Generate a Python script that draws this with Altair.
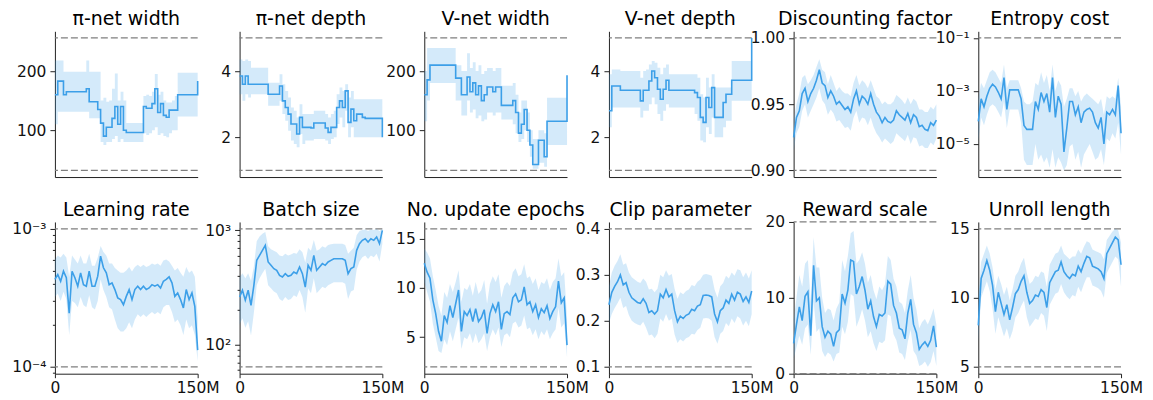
import altair as alt
import pandas as pd

BLUE = "#3c9fe8"
GREY = "#7f7f7f"
FONT = "DejaVu Sans"

# training progress in millions of steps (sampling grid of the read-off values)
steps = list(range(0, 151, 3))

titles = ["π-net width", "π-net depth", "V-net width", "V-net depth",
          "Discounting factor", "Entropy cost",
          "Learning rate", "Batch size", "No. update epochs", "Clip parameter",
          "Reward scale", "Unroll length"]

# ---- pi-net width
piw_mean = [160,183,183,160,165,165,165,165,165,165,165,170,148,148,148,135,112,90,105,105,120,140,110,140,100,96,96,96,96,96,96,140,137,137,145,170,130,145,125,122,134,134,134,160,160,160,160,160,160,160,183]
piw_hi = [218,218,218,199,199,199,199,199,199,199,199,218,199,199,199,199,150,155,148,150,170,196,150,165,150,112,112,112,112,112,112,158,160,158,165,195,160,165,150,147,147,150,158,197,197,197,197,197,197,197,210]
piw_lo = [110,131,131,131,131,131,131,131,131,131,131,131,120,120,120,120,80,75,80,80,85,90,80,85,80,80,80,80,80,80,80,95,92,95,100,105,92,95,90,88,95,100,100,123,123,123,123,123,123,123,100]

# ---- pi-net depth
pid_mean = [3.85,3.6,3.85,3.6,3.6,3.6,3.6,3.6,3.6,3.6,3.3,3.3,3.3,3.3,3.55,3.1,2.9,2.7,2.4,2.4,2.1,2.6,2.3,2.3,2.3,2.28,2.43,2.43,2.43,2.43,2.28,2.15,2.3,2.3,2.9,3.1,2.9,3.4,2.45,2.85,2.5,2.7,2.7,2.6,2.57,2.57,2.57,2.57,2.57,2.57,2.0]
pid_hi = [4.35,4.3,4.35,4.3,4.1,4.1,4.1,4.1,4.1,4.1,3.65,3.65,3.65,3.65,3.9,3.6,3.4,3.2,2.9,2.8,2.6,3.0,2.7,2.7,2.7,2.7,2.8,2.8,2.8,2.8,2.7,2.6,2.7,2.8,3.3,3.5,3.4,3.6,3.2,3.4,3.15,3.15,3.15,3.15,3.15,3.15,3.15,3.15,3.15,3.15,2.6]
pid_lo = [3.3,3.1,3.3,3.2,3.3,3.3,3.3,3.3,3.3,3.3,2.95,2.95,2.95,2.95,3.1,2.7,2.5,2.2,1.9,1.8,1.7,2.1,1.8,1.9,1.9,1.9,1.95,1.95,1.95,1.95,1.9,1.8,1.95,2.0,2.4,2.6,2.3,2.8,2.0,2.3,2.0,2.0,2.0,2.0,2.0,2.0,2.0,2.0,2.0,2.0,1.6]

# ---- V-net width
vw_mean = [160,185,210,210,210,210,210,210,210,210,210,188,188,160,160,190,165,180,160,175,150,160,173,173,165,173,173,142,142,142,142,150,130,95,110,135,100,75,42,42,83,83,55,115,115,115,115,115,115,115,193]
vw_hi = [200,239,239,239,239,239,239,239,239,239,239,210,210,200,200,230,205,215,200,210,195,200,205,205,200,205,205,175,175,175,175,180,160,130,150,150,130,100,85,85,100,100,95,155,155,155,155,155,155,155,235]
vw_lo = [115,150,180,180,180,180,180,180,180,180,180,150,150,125,125,150,130,135,120,125,115,118,130,130,125,130,130,118,118,118,118,110,95,80,85,100,80,55,35,35,45,45,38,75,75,75,75,75,75,75,120]

# ---- V-net depth
vd_mean = [2.8,3.55,3.55,3.55,3.42,3.42,3.42,3.42,3.42,3.42,3.42,3.1,3.42,3.42,3.7,4.0,3.8,3.45,3.15,3.45,3.72,3.42,3.42,3.42,3.42,3.42,3.42,3.42,3.42,3.42,3.35,3.2,2.6,2.45,3.2,2.9,3.5,2.6,2.6,2.6,3.05,3.3,3.3,3.72,3.72,3.72,3.72,3.72,3.72,3.72,5.0]
vd_hi = [3.9,4.05,4.05,4.05,4.0,4.0,4.0,4.0,4.0,4.0,4.0,3.8,4.0,4.05,4.2,4.3,4.25,4.1,3.9,4.1,4.2,3.9,3.9,3.9,3.9,3.9,3.9,3.9,3.9,3.9,3.9,3.8,3.3,3.2,3.8,3.5,3.9,3.5,3.5,3.5,3.5,3.5,3.5,4.3,4.3,4.3,4.3,4.3,4.3,4.3,5.0]
vd_lo = [2.3,2.9,2.9,2.9,2.9,2.9,2.9,2.9,2.9,2.9,2.9,2.6,2.8,2.8,3.0,3.2,3.0,2.7,2.5,2.8,3.0,2.9,2.9,2.9,2.9,2.9,2.9,2.9,2.9,2.9,2.7,2.5,1.9,1.85,2.3,2.1,2.6,2.0,2.0,2.0,2.3,2.5,2.5,3.1,3.1,3.1,3.1,3.1,3.1,3.1,3.1]

# ---- discounting factor
df_mean = [0.925,0.940,0.945,0.958,0.962,0.952,0.958,0.962,0.968,0.976,0.966,0.964,0.955,0.960,0.956,0.950,0.952,0.949,0.946,0.948,0.944,0.954,0.960,0.950,0.956,0.954,0.950,0.958,0.950,0.944,0.941,0.936,0.940,0.937,0.936,0.938,0.945,0.942,0.940,0.938,0.943,0.936,0.942,0.940,0.933,0.934,0.931,0.930,0.936,0.934,0.938]
df_hi = [0.938,0.950,0.958,0.970,0.972,0.965,0.968,0.972,0.978,0.984,0.976,0.974,0.965,0.972,0.966,0.960,0.963,0.960,0.958,0.958,0.956,0.966,0.972,0.964,0.968,0.966,0.962,0.968,0.962,0.956,0.954,0.950,0.952,0.950,0.950,0.952,0.957,0.955,0.953,0.950,0.955,0.950,0.954,0.952,0.946,0.946,0.944,0.944,0.948,0.946,0.950]
df_lo = [0.915,0.928,0.933,0.945,0.950,0.940,0.945,0.950,0.955,0.962,0.953,0.950,0.942,0.946,0.943,0.937,0.938,0.935,0.932,0.933,0.930,0.940,0.945,0.936,0.940,0.939,0.934,0.940,0.933,0.928,0.925,0.921,0.924,0.922,0.920,0.922,0.928,0.926,0.924,0.922,0.927,0.920,0.925,0.924,0.918,0.919,0.917,0.917,0.921,0.919,0.924]

# ---- entropy cost (read as powers of ten)
ent_mean_exp = [-4.15,-3.3,-3.6,-3.2,-2.9,-2.75,-2.85,-3.05,-3.3,-2.5,-3.7,-2.96,-2.96,-2.96,-2.96,-3.3,-4.3,-4.45,-4.45,-4.45,-3.4,-3.7,-3.06,-3.4,-3.1,-3.8,-2.5,-4.0,-3.2,-3.5,-5.3,-4.4,-3.4,-3.4,-3.9,-3.6,-4.2,-3.8,-3.7,-3.65,-3.8,-4.2,-4.4,-4.0,-5.0,-3.8,-3.9,-3.7,-3.9,-2.8,-4.6]
ent_hi_exp = [-3.3,-2.7,-2.9,-2.6,-2.3,-2.2,-2.3,-2.5,-2.7,-2.0,-2.9,-2.6,-2.6,-2.6,-2.6,-2.9,-3.4,-3.5,-3.5,-3.4,-2.7,-2.8,-2.3,-2.7,-2.4,-3.0,-2.0,-3.0,-2.6,-2.8,-3.6,-3.3,-2.9,-2.9,-3.2,-3.0,-3.4,-3.2,-3.1,-3.2,-3.3,-3.4,-3.5,-3.3,-3.9,-3.2,-3.3,-3.2,-3.3,-2.5,-3.6]
ent_lo_exp = [-4.9,-4.0,-4.3,-3.9,-3.6,-3.5,-3.6,-3.8,-4.0,-3.4,-4.4,-3.7,-3.7,-3.7,-3.7,-4.2,-5.6,-5.8,-5.8,-5.8,-5.0,-5.6,-5.4,-5.7,-5.5,-5.9,-5.2,-5.9,-5.5,-5.7,-6.0,-5.8,-5.1,-5.0,-5.6,-5.3,-5.9,-5.4,-5.2,-5.0,-5.3,-5.6,-5.5,-5.2,-5.8,-4.8,-4.9,-4.6,-4.8,-4.2,-5.4]

# ---- learning rate (units of 1e-4)
lr_mean = [4.30,4.67,4.17,4.93,4.42,2.45,4.93,4.42,3.84,4.80,3.94,3.84,4.93,3.84,3.84,4.54,6.35,5.22,4.80,3.94,4.06,3.63,3.16,3.07,2.82,3.24,3.63,3.07,3.63,3.84,3.63,3.84,3.63,3.73,3.94,3.84,3.94,3.73,4.17,4.30,4.49,4.06,3.24,3.43,3.07,2.67,3.63,3.07,3.43,2.74,1.32]
lr_hi = [6.0,6.4,6.2,6.6,6.2,4.5,6.4,6.0,5.6,6.4,5.6,5.6,6.6,5.4,5.4,6.2,7.5,6.8,6.4,5.6,5.6,5.2,5.0,4.8,4.8,5.0,5.3,4.9,5.3,5.5,5.3,5.5,5.3,5.4,5.6,5.5,5.6,5.4,5.9,6.0,5.8,5.4,5.0,5.2,4.8,4.5,5.3,4.8,5.0,4.5,2.3]
lr_lo = [3.2,3.4,3.0,3.5,3.1,1.7,3.0,2.9,2.7,3.2,2.8,2.7,3.3,2.7,2.6,3.0,4.3,3.6,3.2,2.7,2.6,2.2,1.9,1.8,1.8,1.9,2.1,1.9,2.2,2.4,2.3,2.4,2.3,2.4,2.5,2.4,2.5,2.4,2.7,2.8,2.8,2.5,2.1,2.2,2.0,1.7,2.2,1.9,2.0,1.7,1.1]

# ---- batch size
bs_mean = [260,298,244,298,220,329,544,601,665,735,526,492,460,445,402,389,416,394,402,430,416,476,416,318,492,445,601,445,476,509,492,526,544,562,562,562,562,544,416,460,476,665,760,813,840,786,840,813,869,760,993]
bs_hi = [390,420,380,420,360,480,800,880,930,960,720,680,660,640,600,590,620,600,610,630,620,680,640,520,700,660,820,660,680,720,700,740,750,760,760,760,760,740,620,660,700,900,980,1000,1010,980,1010,1000,1020,980,1024]
bs_lo = [150,170,140,160,120,190,330,380,420,460,330,310,290,280,250,240,260,245,250,270,260,300,260,190,310,280,380,280,300,320,310,330,340,350,350,350,350,340,250,290,300,450,530,580,600,560,600,580,620,530,760]

# ---- number of update epochs
ep_mean = [12.5,11.6,11.0,8.8,7.4,5.6,4.6,7.2,6.5,8.2,7.0,8.4,9.8,5.6,7.6,7.2,7.8,6.6,7.9,6.6,7.0,7.8,5.4,7.4,8.3,7.6,8.6,5.8,7.4,7.6,7.3,9.0,9.4,8.6,8.8,10.1,8.3,8.6,7.6,8.3,7.0,7.9,7.5,8.2,6.9,7.6,8.1,10.7,8.5,9.0,4.2]
ep_hi = [14.0,13.6,13.0,11.2,9.8,8.2,7.2,9.6,9.0,10.4,9.6,10.6,11.8,8.6,10.0,9.8,10.4,9.2,10.6,9.4,9.8,10.8,8.4,10.4,11.2,10.6,11.4,9.0,10.2,10.6,10.2,11.6,12.0,11.2,11.4,12.4,11.0,11.2,10.4,11.0,9.8,10.6,10.4,11.0,9.8,10.6,11.0,13.0,11.2,11.6,7.0]
ep_lo = [10.6,9.6,8.6,6.4,5.0,3.6,3.4,4.8,4.2,5.6,4.6,5.8,7.0,3.8,5.0,4.8,5.4,4.4,5.4,4.4,4.8,5.4,3.6,5.0,5.8,5.2,6.0,4.0,5.2,5.4,5.0,6.4,6.6,6.0,6.2,7.2,5.8,6.0,5.2,5.8,4.8,5.6,5.2,5.8,4.8,5.4,5.8,8.0,6.0,6.4,3.0]

# ---- clip parameter
cp_mean = [0.235,0.262,0.275,0.285,0.300,0.278,0.283,0.262,0.250,0.245,0.240,0.238,0.248,0.238,0.218,0.222,0.215,0.222,0.258,0.250,0.268,0.252,0.258,0.222,0.198,0.210,0.205,0.212,0.215,0.225,0.222,0.232,0.235,0.255,0.256,0.255,0.252,0.215,0.198,0.222,0.228,0.245,0.238,0.258,0.245,0.262,0.258,0.242,0.252,0.240,0.265]
cp_hi = [0.275,0.305,0.320,0.330,0.345,0.322,0.325,0.305,0.295,0.290,0.285,0.282,0.292,0.285,0.268,0.270,0.262,0.270,0.300,0.295,0.310,0.298,0.302,0.270,0.248,0.262,0.258,0.265,0.268,0.278,0.275,0.285,0.290,0.300,0.302,0.300,0.298,0.268,0.250,0.275,0.282,0.298,0.292,0.305,0.298,0.312,0.310,0.295,0.305,0.292,0.310]
cp_lo = [0.195,0.215,0.228,0.238,0.250,0.228,0.232,0.212,0.200,0.195,0.192,0.190,0.198,0.185,0.168,0.170,0.162,0.172,0.205,0.198,0.215,0.200,0.205,0.170,0.152,0.160,0.155,0.162,0.165,0.172,0.170,0.180,0.185,0.205,0.206,0.205,0.200,0.165,0.150,0.172,0.178,0.195,0.188,0.205,0.195,0.210,0.205,0.190,0.200,0.188,0.215]

# ---- reward scale
rs_mean = [4.0,6.5,8.8,7.0,10.2,10.8,5.0,14.3,9.6,10.0,6.2,4.8,5.6,5.2,3.6,5.4,5.8,10.5,9.3,11.0,15.0,14.8,10.5,11.5,12.8,11.0,8.5,9.6,7.5,6.2,7.8,7.6,8.0,12.2,11.8,9.0,8.0,6.0,5.8,4.6,8.0,9.8,6.5,5.4,3.2,3.8,4.2,3.6,4.4,6.3,3.5]
rs_hi = [7.0,10.0,13.0,11.5,14.5,15.0,9.5,18.0,14.0,14.0,10.0,8.0,8.6,8.4,7.0,8.6,9.4,15.0,13.5,15.5,18.5,18.8,14.5,15.0,16.0,14.5,12.0,13.0,11.0,9.8,11.5,11.0,11.8,15.5,15.0,12.5,11.5,9.5,9.2,8.0,11.0,13.0,10.0,8.5,6.0,6.8,7.2,6.5,7.4,8.6,6.5]
rs_lo = [2.0,3.5,5.0,3.8,6.0,6.5,2.5,9.5,5.5,6.0,3.0,2.2,2.8,2.5,1.6,2.6,2.8,6.2,5.2,6.8,10.5,10.2,6.2,7.2,8.5,7.0,4.8,5.6,4.0,3.0,4.2,4.0,4.4,7.8,7.6,5.2,4.4,2.8,2.6,1.8,4.2,5.8,3.0,2.4,1.0,1.2,1.6,0.9,1.5,3.0,1.0]

# ---- unroll length
ul_mean = [8.0,11.4,12.0,12.7,12.0,10.9,9.0,10.4,9.6,8.8,9.5,8.4,9.3,10.3,10.6,11.2,11.6,10.4,9.6,9.8,10.2,10.1,10.6,10.4,9.3,11.1,11.5,11.9,12.0,12.6,11.9,11.6,11.4,11.7,11.6,12.3,11.9,12.5,13.0,12.9,12.3,12.2,12.1,11.9,11.4,13.2,13.6,14.0,14.4,14.2,12.4]
ul_hi = [10.0,12.6,13.2,13.8,13.2,12.2,10.6,11.6,11.0,10.2,10.8,9.8,10.6,11.6,11.9,12.5,12.9,11.8,11.0,11.2,11.6,11.5,11.9,11.8,10.8,12.4,12.8,13.2,13.3,13.8,13.2,13.0,12.8,13.0,13.0,13.5,13.2,13.7,14.1,14.0,13.5,13.4,13.3,13.2,12.8,14.2,14.5,14.8,15.0,14.9,14.0]
ul_lo = [6.8,10.0,10.6,11.2,10.5,9.2,7.4,8.6,7.9,7.2,7.8,7.0,7.6,8.6,8.9,9.4,9.8,8.6,7.9,8.2,8.5,8.4,8.9,8.7,7.6,9.5,9.9,10.3,10.4,11.0,10.4,10.1,9.9,10.2,10.1,10.8,10.4,11.0,11.5,11.5,10.9,10.8,10.7,10.5,10.0,11.8,12.2,12.6,13.0,12.8,10.8]

# search-space bounds (dashed lines)
bounds_lo = [32, 1, 32, 1, 0.9, 1e-6, 1e-4, 64, 2, 0.1, 0, 5]
bounds_hi = [256, 5, 256, 5, 1.0, 1e-1, 1e-3, 1024, 16, 0.4, 20, 15]

# axis domains
y_domains = [[20.8, 267.2], [0.8, 5.2], [20.8, 267.2], [0.8, 5.2], [0.895, 1.005],
             [10 ** -6.25, 10 ** -0.75], [10 ** -4.05, 10 ** -2.95], [55.7, 1176],
             [1.3, 16.7], [0.085, 0.415], [0, 20], [4.5, 15.5]]

tick_vals = [[100, 200], [2, 4], [100, 200], [2, 4], [0.9, 0.95, 1.0], [1e-5, 1e-3, 1e-1],
             [1e-4, 1e-3], [100, 1000], [5, 10, 15], [0.1, 0.2, 0.3, 0.4], [0, 10, 20], [5, 10, 15]]
tick_text = [["100", "200"], ["2", "4"], ["100", "200"], ["2", "4"], ["0.90", "0.95", "1.00"],
             ["10⁻⁵", "10⁻³", "10⁻¹"], ["10⁻⁴", "10⁻³"], ["10²", "10³"], ["5", "10", "15"],
             ["0.1", "0.2", "0.3", "0.4"], ["0", "10", "20"], ["5", "10", "15"]]
minor_vals = [[], [], [], [], [], [],
              [9e-5, 2e-4, 3e-4, 4e-4, 5e-4, 6e-4, 7e-4, 8e-4, 9e-4],
              [60, 70, 80, 90, 200, 300, 400, 500, 600, 700, 800, 900],
              [], [], [], []]

series = [
    (piw_mean, piw_lo, piw_hi),
    (pid_mean, pid_lo, pid_hi),
    (vw_mean, vw_lo, vw_hi),
    (vd_mean, vd_lo, vd_hi),
    (df_mean, df_lo, df_hi),
    ([10 ** e for e in ent_mean_exp], [10 ** e for e in ent_lo_exp], [10 ** e for e in ent_hi_exp]),
    ([v * 1e-4 for v in lr_mean], [v * 1e-4 for v in lr_lo], [v * 1e-4 for v in lr_hi]),
    (bs_mean, bs_lo, bs_hi),
    (ep_mean, ep_lo, ep_hi),
    (cp_mean, cp_lo, cp_hi),
    (rs_mean, rs_lo, rs_hi),
    (ul_mean, ul_lo, ul_hi),
]
log_panels = {5, 6, 7}
step_panels = {0, 1, 2, 3}

PANEL_W = 143


def test_for(v):
    if v == 0:
        return "datum.value == 0"
    return f"abs(datum.value - ({v!r})) < {abs(v) * 1e-6!r}"


def make_panel(i):
    mean, lo, hi = series[i]
    data = pd.DataFrame({"step": steps, "mean": mean, "lo": lo, "hi": hi})
    bdf = pd.DataFrame({"b": [bounds_lo[i], bounds_hi[i]]})
    tdf = pd.DataFrame({"t": [titles[i]]})
    interp = "step-after" if i in step_panels else "linear"
    bottom = i >= 6
    height = 152 if bottom else 146

    majors = tick_vals[i]
    expr = " : ".join(f"{test_for(v)} ? '{t}'" for v, t in zip(majors, tick_text[i])) + " : ''"
    major_test = " || ".join(test_for(v) for v in majors)
    if i in log_panels:
        scale = alt.Scale(type="log", domain=y_domains[i], nice=False)
    else:
        scale = alt.Scale(domain=y_domains[i], nice=False, zero=False)
    yaxis = alt.Axis(values=majors + minor_vals[i], labelExpr=expr, title=None, grid=False,
                     tickSize={"condition": {"test": major_test, "value": 5}, "value": 2.5},
                     labelPadding=4, labelOverlap=False, labelFlush=False, labelBound=False)

    if bottom:
        xaxis = alt.Axis(values=[0, 150], labelExpr="datum.value == 0 ? '0' : '150M'",
                         title=None, grid=False, tickSize=4, labelPadding=3,
                         labelFlush=False, labelOverlap=False)
    else:
        xaxis = alt.Axis(labels=False, ticks=False, title=None, grid=False)
    xscale = alt.Scale(domain=[0, 150], nice=False, zero=False)
    x = alt.X("step:Q", scale=xscale, axis=xaxis)

    rules = alt.Chart(bdf).mark_rule(color=GREY, strokeDash=[7, 3], strokeWidth=1.3).encode(
        y=alt.Y("b:Q", scale=scale, axis=yaxis))
    band = alt.Chart(data).mark_area(color=BLUE, opacity=0.22, interpolate=interp).encode(
        x=x, y=alt.Y("lo:Q", scale=scale, axis=yaxis), y2="hi:Q")
    line = alt.Chart(data).mark_line(color=BLUE, strokeWidth=1.6, interpolate=interp).encode(
        x=x, y=alt.Y("mean:Q", scale=scale, axis=yaxis))
    title = alt.Chart(tdf).mark_text(fontSize=19, font=FONT, color="black", align="center",
                                     baseline="alphabetic").encode(
        x=alt.value(PANEL_W / 2), y=alt.value(-6), text="t:N")

    return alt.layer(rules, band, line, title).properties(width=PANEL_W, height=height)


panels = [make_panel(i) for i in range(12)]
row1 = alt.hconcat(*panels[:6], spacing=42, bounds="flush")
row2 = alt.hconcat(*panels[6:], spacing=42, bounds="flush")
chart = alt.vconcat(row1, row2, spacing=22).properties(
    padding={"left": 3, "right": 2, "top": 2, "bottom": 0}
).configure_view(stroke=None).configure_axis(
    domainColor="#222222", tickColor="#222222", labelColor="#111111",
    labelFont=FONT, labelFontSize=15.5, domainWidth=1, tickWidth=1
)

chart.save("out.html", embed_options={"renderer": "svg", "actions": False})
